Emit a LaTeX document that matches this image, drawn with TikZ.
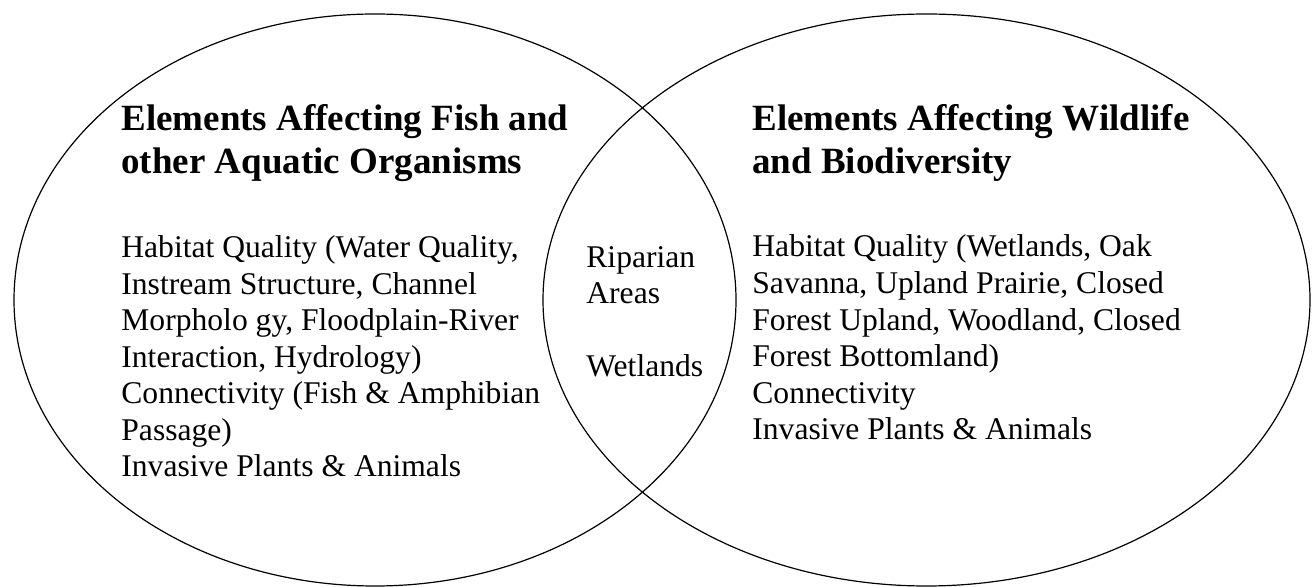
\documentclass[tikz,border=0pt]{standalone}
\usepackage{fontspec}
\setmainfont{Liberation Serif}
\tikzset{
  venn/.style={draw, line width=0.6pt},
  heading/.style={anchor=base west, align=left, inner sep=0pt,
                  font=\fontsize{18.5}{21.7}\selectfont\bfseries},
  itemlist/.style={anchor=base west, align=left, inner sep=0pt,
                   font=\fontsize{15.8}{18.3}\selectfont}
}

\begin{document}
\begin{tikzpicture}[x=0.5pt, y=-0.5pt]
  \useasboundingbox (0,0) rectangle (1312,587);
  % the two sets
  \draw[venn] (375,300) ellipse [x radius=180.5pt, y radius=143pt];
  \draw[venn] (926.5,300) ellipse [x radius=191.75pt, y radius=143pt];
  % fish side (nodes sit on the baseline of their last line)
  \node[heading] (fishtitle) at (121,173.5)
    {Elements Affecting Fish and\\other Aquatic Organisms};
  \node[itemlist] (fishlist) at (121,477)
    {Habitat Quality (Water Quality,\\Instream Structure, Channel\\
     Morpholo gy, Floodplain-River\\Interaction, Hydrology)\\
     Connectivity (Fish \& Amphibian\\Passage)\\Invasive Plants \& Animals};
  % overlap
  \node[itemlist] (shared) at (586,377)
    {Riparian\\Areas\\[18.3pt]Wetlands};
  % wildlife side
  \node[heading] (wildtitle) at (752,173.5)
    {Elements Affecting Wildlife\\and Biodiversity};
  \node[itemlist] (wildlist) at (752,440)
    {Habitat Quality (Wetlands, Oak\\Savanna, Upland Prairie, Closed\\
     Forest Upland, Woodland, Closed\\Forest Bottomland)\\
     Connectivity\\Invasive Plants \& Animals};
\end{tikzpicture}
\end{document}
